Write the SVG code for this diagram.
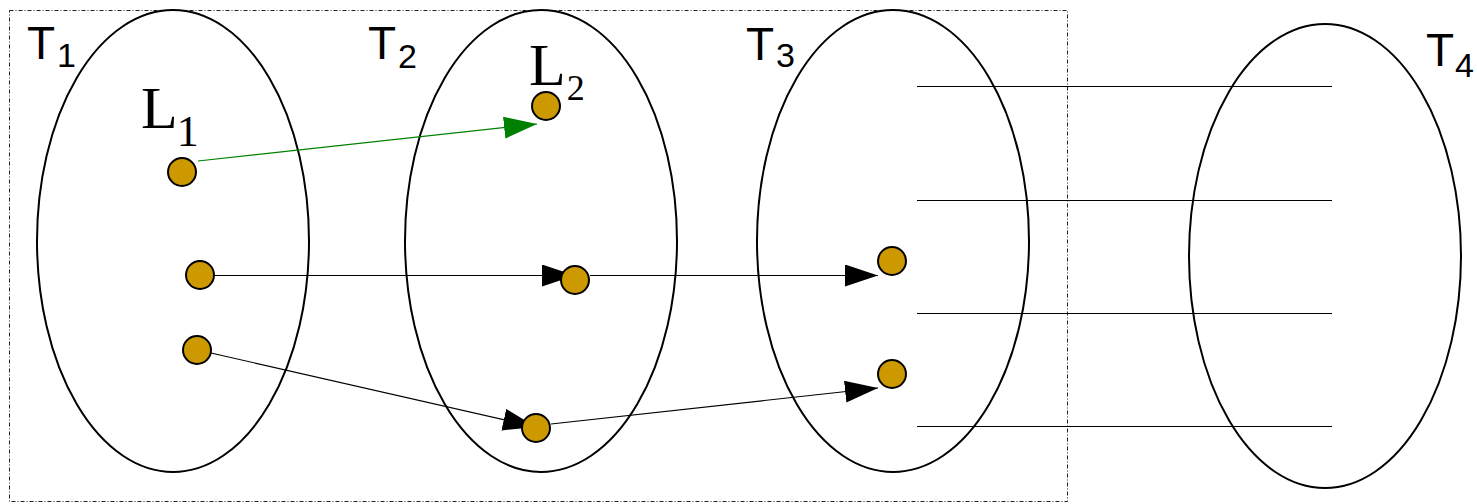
<svg xmlns="http://www.w3.org/2000/svg" width="1477" height="504" viewBox="0 0 1477 504">
<style>
.ell{fill:none;stroke:#000;stroke-width:2}
.node{fill:#cc9900;stroke:#000;stroke-width:2}
.conn{fill:none;stroke:#000;stroke-width:1.2}
.green{fill:none;stroke:#008000;stroke-width:1.2}
.hl{stroke:#000;stroke-width:1.2}
.tl{font-family:"Liberation Sans",Arial,sans-serif;font-size:46px;fill:#000}
.ll{font-family:"Liberation Serif","Times New Roman",serif;font-size:60px;fill:#000}
</style>
<defs>
<marker id="ah" markerUnits="userSpaceOnUse" markerWidth="34" markerHeight="23" refX="33" refY="11" orient="auto"><path d="M0,0 L33,11 L0,22 z" fill="#000"/></marker>
<marker id="ahg" markerUnits="userSpaceOnUse" markerWidth="34" markerHeight="23" refX="33" refY="11" orient="auto"><path d="M0,0 L33,11 L0,22 z" fill="#008000"/></marker>
</defs>
<rect x="9.5" y="10.5" width="1058" height="491" fill="none" stroke="#222" stroke-width="1" stroke-dasharray="4 2 1 2"/>
<g id="T1"><ellipse class="ell" cx="173" cy="241" rx="136" ry="231"/><text class="tl" x="27" y="59">T<tspan font-size="34" dy="8" dx="2">1</tspan></text></g>
<g id="T2"><ellipse class="ell" cx="541" cy="241" rx="136" ry="231"/><text class="tl" x="368" y="59">T<tspan font-size="34" dy="9" dx="2">2</tspan></text></g>
<g id="T3"><ellipse class="ell" cx="893" cy="241" rx="136" ry="231"/><text class="tl" x="746" y="60">T<tspan font-size="34" dy="7" dx="2">3</tspan></text></g>
<g id="T4"><ellipse class="ell" cx="1325" cy="256" rx="136" ry="232"/><text class="tl" x="1426" y="66">T<tspan font-size="34" dy="11" dx="1">4</tspan></text></g>
<g id="lines">
<line class="hl" x1="917" y1="86.5" x2="1332" y2="86.5"/>
<line class="hl" x1="917" y1="200.5" x2="1332" y2="200.5"/>
<line class="hl" x1="917" y1="313.5" x2="1332" y2="313.5"/>
<line class="hl" x1="917" y1="426.5" x2="1332" y2="426.5"/>
</g>
<g id="connectors">
<line class="green" x1="198" y1="161" x2="537" y2="124" marker-end="url(#ahg)"/>
<line class="conn" x1="214" y1="275.5" x2="575" y2="275.5" marker-end="url(#ah)"/>
<line class="conn" x1="590" y1="275.5" x2="878" y2="275.5" marker-end="url(#ah)"/>
<line class="conn" x1="211" y1="353" x2="536" y2="427" marker-end="url(#ah)"/>
<line class="conn" x1="551" y1="424" x2="878" y2="388" marker-end="url(#ah)"/>
</g>
<g id="L1"><circle class="node" cx="182" cy="172" r="14"/><text class="ll" x="141" y="128">L<tspan font-size="44" dy="18" dx="-1">1</tspan></text></g>
<g id="n2"><circle class="node" cx="200" cy="275" r="14"/></g>
<g id="n3"><circle class="node" cx="197" cy="350" r="14"/></g>
<g id="L2"><circle class="node" cx="546" cy="106" r="14"/><text class="ll" x="529" y="85">L<tspan font-size="36" dy="15" dx="1">2</tspan></text></g>
<g id="n5"><circle class="node" cx="575" cy="280" r="14"/></g>
<g id="n6"><circle class="node" cx="536" cy="428" r="14"/></g>
<g id="n7"><circle class="node" cx="892" cy="261" r="14"/></g>
<g id="n8"><circle class="node" cx="892" cy="374" r="14"/></g>
</svg>
